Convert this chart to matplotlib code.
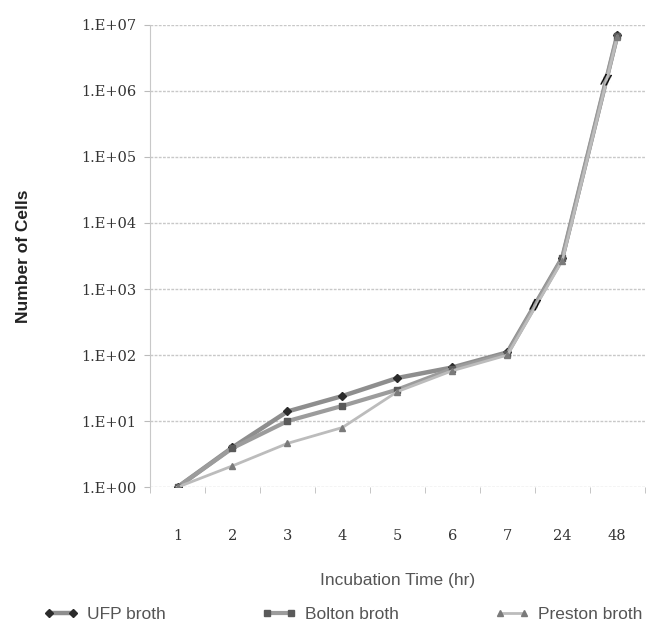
import matplotlib
matplotlib.use("Agg")
import matplotlib.pyplot as plt
import numpy as np

# categorias del eje x (tiempo de incubacion en horas)
tiempos = ["1", "2", "3", "4", "5", "6", "7", "24", "48"]

# numero de celulas
ufp = [1.0, 4.0, 14, 24, 45, 65, 110, 3000, 7.0e6]
bolton = [1.0, 3.9, 10, 17, 30, 62, 105, 2900, 6.8e6]
preston = [1.0, 2.1, 4.6, 8.0, 28, 58, 100, 2700, 6.6e6]

series = [
    ("UFP broth", ufp, "#8e8e8e", "D", 3.2, "#2b2b2b"),
    ("Bolton broth", bolton, "#9c9c9c", "s", 3.0, "#5a5a5a"),
    ("Preston broth", preston, "#bcbcbc", "^", 2.0, "#7a7a7a"),
]

fig = plt.figure(figsize=(6.65, 6.36), dpi=100)
ax = fig.add_axes([0.2256, 0.234, 0.744, 0.727])

x = np.arange(len(tiempos))
for nombre, datos, color, marca, grosor, color_marca in series:
    ax.plot(x, datos, color=color, lw=grosor, marker=marca, markersize=4.5,
            markerfacecolor=color_marca, markeredgecolor=color_marca, label=nombre)

# marcas de corte "//" entre 7 y 24, y entre 24 y 48
for i, t in ((6, 0.5), (7, 0.8)):
    xm = x[i] + t * (x[i + 1] - x[i])
    ym = 10 ** (np.log10(ufp[i]) + t * (np.log10(ufp[i + 1]) - np.log10(ufp[i])))
    ax.text(xm, ym, "//", ha="center", va="center", fontsize=10,
            fontweight="bold", color="black", rotation=-10)

ax.set_yscale("log")
ax.set_ylim(1, 1e7)
ax.set_xlim(-0.5, len(tiempos) - 0.5)
ax.set_yticks([10.0 ** k for k in range(8)])
ax.set_yticklabels(["1.E+%02d" % k for k in range(8)], family="DejaVu Serif",
                   fontsize=10.5, color="#333333")
ax.minorticks_off()
ax.set_xticks(x)
ax.set_xticklabels(tiempos, family="DejaVu Serif", fontsize=10.5, color="#333333")
ax.set_xticks(np.arange(len(tiempos) + 1) - 0.5, minor=True)
ax.tick_params(axis="x", which="major", length=0, pad=30)
ax.tick_params(axis="x", which="minor", length=4, color="#bbbbbb")
ax.tick_params(axis="y", length=4, color="#bbbbbb", pad=6)

ax.grid(axis="y", color="#c8c8c8", lw=1.0, ls=(0, (2, 1)))
for lado in ("top", "right", "bottom"):
    ax.spines[lado].set_visible(False)
ax.spines["left"].set_color("#c8c8c8")
ax.set_axisbelow(True)

ax.set_ylabel("Number of Cells", fontsize=12.5, fontweight="bold", labelpad=36,
              color="#222222", family="Liberation Sans")
ax.set_xlabel("Incubation Time (hr)", fontsize=12.5, color="#555555", labelpad=22,
              family="Liberation Sans")

ax.legend(loc="upper center", bbox_to_anchor=(0.39, -0.225), ncol=3, frameon=False,
          numpoints=2, handlelength=2.0, columnspacing=5.5, handletextpad=0.5,
          prop={"family": "Liberation Sans", "size": 12.5})
for t in ax.get_legend().get_texts():
    t.set_color("#555555")

plt.savefig("out.png", dpi=100)
